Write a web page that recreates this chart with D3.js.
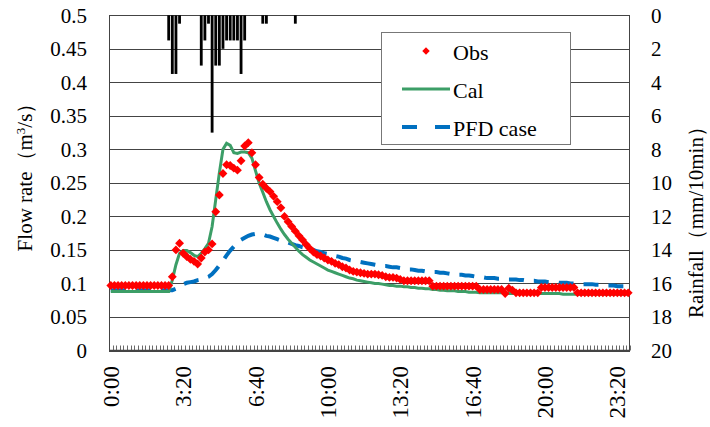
<!DOCTYPE html>
<html>
<head>
<meta charset="utf-8">
<script src="https://cdn.jsdelivr.net/npm/d3@7"></script>
<style>
  body { margin: 0; background: #fff; }
  svg text { font-family: "Liberation Serif", "Times New Roman", serif; fill: #000; }
</style>
</head>
<body>
<div id="chart"></div>
<script>
// 10-minute steps, 0:00 .. 23:50
var times = d3.range(144).map(function(i) {
  var m = i * 10;
  return Math.floor(m / 60) + ":" + d3.format("02")(m % 60);
});

var tickLabels = ["0:00", "3:20", "6:40", "10:00", "13:20", "16:40", "20:00", "23:20"];

var obs = [
  .097,.097,.097,.097,.097,.097,.097,.097,.097,.097,
  .097,.097,.097,.097,.097,.097,.097,.11,.15,.16,
  .145,.14,.136,.133,.129,.138,.147,.15,.159,.207,
  .232,.264,.277,.276,.272,.269,.283,.305,.31,.295,
  .277,.258,.248,.242,.237,.23,.222,.213,.2,.192,
  .185,.178,.171,.165,.158,.152,.147,.143,.141,.138,
  .135,.133,.13,.128,.125,.123,.12,.118,.117,.116,
  .115,.114,.114,.114,.113,.112,.11,.109,.109,.108,
  .106,.104,.104,.104,.104,.104,.104,.104,.104,.096,
  .096,.096,.096,.096,.096,.096,.096,.096,.096,.096,
  .096,.096,.091,.091,.091,.091,.091,.091,.091,.085,
  .093,.09,.086,.086,.086,.086,.086,.086,.086,.094,
  .094,.094,.094,.094,.094,.094,.094,.094,.094,.086,
  .086,.086,.086,.086,.086,.086,.086,.086,.086,.086,
  .086,.086,.086,.086
];

var cal = [
  .088,.088,.088,.088,.088,.088,.088,.088,.088,.088,
  .088,.088,.088,.088,.088,.088,.088,.105,.128,.145,
  .149,.149,.146,.142,.14,.145,.152,.16,.185,.225,
  .265,.3,.309,.306,.295,.294,.296,.296,.295,.287,
  .268,.25,.236,.222,.21,.2,.19,.181,.173,.166,
  .16,.154,.148,.143,.139,.135,.132,.129,.126,.123,
  .12,.118,.116,.114,.112,.11,.108,.107,.105,.104,
  .103,.102,.101,.1,.1,.099,.098,.097,.097,.096,
  .096,.095,.095,.094,.094,.093,.093,.092,.092,.091,
  .091,.09,.09,.089,.089,.089,.088,.088,.088,.087,
  .087,.087,.086,.086,.086,.086,.086,.086,.086,.086,
  .085,.085,.085,.085,.085,.085,.085,.085,.085,.085,
  .085,.085,.085,.085,.085,.084,.084,.084,.084,.084,
  .084,.084,.084,.084,.084,.084,.084,.084,.084,.084,
  .084,.084,.084,.084
];

var pfd = [
  .09,.09,.09,.09,.09,.09,.09,.09,.09,.09,
  .09,.09,.09,.09,.09,.09,.09,.09,.092,.096,
  .099,.101,.102,.103,.105,.106,.108,.11,.114,.12,
  .127,.134,.142,.149,.155,.16,.165,.168,.171,.173,
  .174,.174,.173,.171,.17,.168,.166,.164,.163,.161,
  .159,.157,.156,.154,.153,.151,.15,.148,.147,.145,
  .144,.142,.141,.14,.138,.137,.135,.134,.133,.132,
  .131,.13,.129,.128,.127,.126,.126,.125,.124,.124,
  .123,.122,.121,.121,.12,.119,.119,.118,.118,.117,
  .117,.116,.116,.115,.114,.114,.113,.113,.112,.112,
  .111,.11,.109,.109,.108,.108,.108,.107,.107,.107,
  .106,.106,.106,.105,.105,.104,.104,.104,.103,.103,
  .103,.102,.102,.102,.101,.101,.101,.1,.1,.1,
  .099,.099,.099,.099,.098,.098,.098,.097,.097,.097,
  .096,.096,.096,.096
];

// rainfall, mm per 10 min
var rain = [
  0,0,0,0,0,0,0,0,0,0,
  0,0,0,0,0,0,1.5,3.5,3.5,0.5,
  0,0,0,0,0,3,1.5,0.5,7,3,
  3,2,1.5,1.5,1.5,1.5,3.5,1.5,0,0,
  0,0,0.5,0.5,0,0,0,0,0,0,
  0,0.5,0,0,0,0,0,0,0,0,
  0,0,0,0,0,0,0,0,0,0,
  0,0,0,0,0,0,0,0,0,0,
  0,0,0,0,0,0,0,0,0,0,
  0,0,0,0,0,0,0,0,0,0,
  0,0,0,0,0,0,0,0,0,0,
  0,0,0,0,0,0,0,0,0,0,
  0,0,0,0,0,0,0,0,0,0,
  0,0,0,0,0,0,0,0,0,0,
  0,0,0,0
];

var flowTicks = d3.range(0, 0.501, 0.05);
var rainTicks = d3.range(0, 21, 2);

var W = 710, H = 427;
var pLeft = 109, pRight = 630, pTop = 15.3, pBottom = 350.5;

var svg = d3.select("#chart").append("svg")
  .attr("width", W)
  .attr("height", H);

var x = d3.scaleBand().domain(times).range([pLeft, pRight]).padding(0);
var y = d3.scaleLinear().domain([0, 0.5]).range([pBottom, pTop]);
var yr = d3.scaleLinear().domain([0, 20]).range([pTop, pBottom]);

var cx = function(i) { return x(times[i]) + x.bandwidth() / 2; };

// gridlines
svg.append("g")
  .selectAll("line")
  .data(flowTicks)
  .enter().append("line")
    .attr("x1", pLeft).attr("x2", pRight)
    .attr("y1", function(d) { return Math.round(y(d)) + 0.5; })
    .attr("y2", function(d) { return Math.round(y(d)) + 0.5; })
    .attr("stroke", "#444")
    .attr("stroke-width", 1);

// rainfall bars hanging from the top
svg.append("g")
  .selectAll("rect")
  .data(rain.map(function(v, i) { return {v: v, i: i}; }).filter(function(d) { return d.v > 0; }))
  .enter().append("rect")
    .attr("x", function(d) { return x(times[d.i]) + 0.4; })
    .attr("y", pTop)
    .attr("width", x.bandwidth() - 0.8)
    .attr("height", function(d) { return yr(d.v) - pTop; })
    .attr("fill", "#000");

// axes lines
svg.append("line").attr("x1", pLeft + 0.5).attr("x2", pLeft + 0.5).attr("y1", pTop).attr("y2", pBottom)
  .attr("stroke", "#444");
svg.append("line").attr("x1", pRight - 0.5).attr("x2", pRight - 0.5).attr("y1", pTop).attr("y2", pBottom)
  .attr("stroke", "#444");
svg.append("line").attr("x1", pLeft).attr("x2", pRight).attr("y1", pBottom).attr("y2", pBottom)
  .attr("stroke", "#444").attr("stroke-width", 1.5);

// minor ticks on x axis
svg.append("g")
  .selectAll("line")
  .data(d3.range(145))
  .enter().append("line")
    .attr("x1", function(i) { return Math.round(pLeft + i * x.step()) + 0.5; })
    .attr("x2", function(i) { return Math.round(pLeft + i * x.step()) + 0.5; })
    .attr("y1", pBottom - 5).attr("y2", pBottom)
    .attr("stroke", "#444").attr("stroke-width", 0.8);

// left axis labels
svg.append("g")
  .selectAll("text")
  .data(flowTicks)
  .enter().append("text")
    .attr("x", 87)
    .attr("y", function(d) { return y(d); })
    .attr("dy", "0.35em")
    .attr("text-anchor", "end")
    .style("font-size", "21px")
    .text(function(d) { return d3.format("")(+d.toFixed(2)); });

// right axis labels
svg.append("g")
  .selectAll("text")
  .data(rainTicks)
  .enter().append("text")
    .attr("x", 651)
    .attr("y", function(d) { return yr(d); })
    .attr("dy", "0.35em")
    .attr("text-anchor", "start")
    .style("font-size", "21px")
    .text(function(d) { return d; });

// x labels, rotated
svg.append("g")
  .selectAll("text")
  .data(tickLabels)
  .enter().append("text")
    .attr("transform", function(d) { return "translate(" + (x(d) + x.bandwidth() / 2) + ",366) rotate(-90)"; })
    .attr("dy", "0.35em")
    .attr("text-anchor", "end")
    .style("font-size", "23px")
    .text(function(d) { return d; });

// axis titles
var yt = svg.append("text")
  .attr("transform", "translate(32,172) rotate(-90)")
  .attr("text-anchor", "middle")
  .style("font-size", "21px");
yt.append("tspan").text("Flow rate\uFF08m");
yt.append("tspan").attr("baseline-shift", "super").style("font-size", "13px").text("3");
yt.append("tspan").text("/s\uFF09");

svg.append("text")
  .attr("transform", "translate(703,217) rotate(-90)")
  .attr("text-anchor", "middle")
  .style("font-size", "21px")
  .text("Rainfall\uFF08mm/10min\uFF09");

// series
var line = d3.line()
  .x(function(d, i) { return cx(i); })
  .y(function(d) { return y(d); });

svg.append("path")
  .datum(pfd)
  .attr("d", line)
  .attr("fill", "none")
  .attr("stroke", "#0070C0")
  .attr("stroke-width", 4)
  .attr("stroke-dasharray", "15,10");

svg.append("path")
  .datum(cal)
  .attr("d", line)
  .attr("fill", "none")
  .attr("stroke", "#3C9E67")
  .attr("stroke-width", 3);

var diamond = d3.symbol().type(d3.symbolDiamond2).size(50);
svg.append("g")
  .selectAll("path")
  .data(obs)
  .enter().append("path")
    .attr("transform", function(d, i) { return "translate(" + cx(i) + "," + y(d) + ")"; })
    .attr("d", diamond)
    .attr("fill", "#FF0000");

// legend
var lg = svg.append("g");
lg.append("rect")
  .attr("x", 381.5).attr("y", 32.5)
  .attr("width", 189).attr("height", 112)
  .attr("fill", "#fff").attr("stroke", "#777");

lg.append("path")
  .attr("transform", "translate(426,51)")
  .attr("d", d3.symbol().type(d3.symbolDiamond2).size(36))
  .attr("fill", "#FF0000");
lg.append("line").attr("x1", 402).attr("x2", 450).attr("y1", 89).attr("y2", 89)
  .attr("stroke", "#3C9E67").attr("stroke-width", 3);
lg.append("line").attr("x1", 402).attr("x2", 450).attr("y1", 127).attr("y2", 127)
  .attr("stroke", "#0070C0").attr("stroke-width", 4).attr("stroke-dasharray", "15,18");

lg.selectAll("text")
  .data(["Obs", "Cal", "PFD case"])
  .enter().append("text")
    .attr("x", 453)
    .attr("y", function(d, i) { return 52 + i * 38; })
    .attr("dy", "0.35em")
    .style("font-size", "22px")
    .text(function(d) { return d; });
</script>
</body>
</html>
